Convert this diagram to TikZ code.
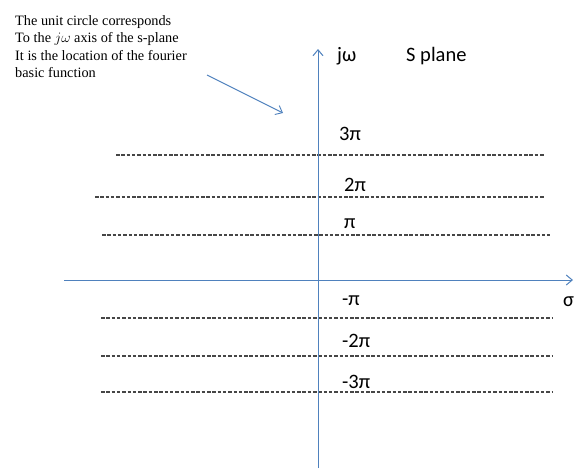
\documentclass[tikz,border=0pt]{standalone}
\usepackage{fontspec}
\setmainfont{Liberation Serif}
\newfontfamily\lblfont{Carlito}
\usetikzlibrary{arrows.meta}
\definecolor{axblue}{RGB}{79,129,189}
\definecolor{dashgray}{RGB}{70,70,70}
\tikzset{
  axis/.style={draw=axblue, line width=1pt, -{Straight Barb[length=6pt,width=10pt]}},
  grid/.style={draw=dashgray, line width=1.2pt, dash pattern=on 3.5pt off 1.8pt},
  lbl/.style={font=\lblfont\fontsize{20.5}{22}\selectfont, inner sep=0pt, anchor=west},
  note/.style={font=\fontsize{14.3}{17.5}\selectfont, align=left, inner sep=0pt, anchor=north west}
}
\begin{document}
\begin{tikzpicture}[x=1pt,y=-1pt]
\useasboundingbox (0,0) rectangle (586,472);
% dashed lines
\coordinate (g3a) at (116,155); \coordinate (g3b) at (545,155);
\coordinate (g2a) at (95,197);  \coordinate (g2b) at (545,197);
\coordinate (g1a) at (102,235); \coordinate (g1b) at (550,235);
\coordinate (h1a) at (101,318); \coordinate (h1b) at (553,318);
\coordinate (h2a) at (101,356); \coordinate (h2b) at (553,356);
\coordinate (h3a) at (101,392); \coordinate (h3b) at (553,392);
\draw[grid] (g3a) -- (g3b);
\draw[grid] (g2a) -- (g2b);
\draw[grid] (g1a) -- (g1b);
\draw[grid] (h1a) -- (h1b);
\draw[grid] (h2a) -- (h2b);
\draw[grid] (h3a) -- (h3b);
% axes
\coordinate (vb) at (318,468); \coordinate (vt) at (318,49);
\coordinate (hl) at (64,280); \coordinate (hr) at (573,280);
\draw[axis] (vb) -- (vt);
\draw[axis] (hl) -- (hr);
% labels
\node[lbl] (jw) at (337,56) {jω};
\node[lbl] (sp) at (406,56) {S plane};
\node[lbl] (p3) at (339,134) {3π};
\node[lbl] (p2) at (344,185) {2π};
\node[lbl] (p1) at (344,224) {π};
\node[lbl] (m1) at (342,301) {-π};
\node[lbl] (m2) at (342,341) {-2π};
\node[lbl] (m3) at (342,382) {-3π};
\node[lbl] (sg) at (563,302) {σ};
% note
\node[note] (nt) at (15,15) {The unit circle corresponds\\To the $j\omega$ axis of the s-plane\\It is the location of the fourier\\basic function};
\coordinate (na) at (207,75); \coordinate (nb) at (283,113);
\draw[axis, line width=0.9pt] (na) -- (nb);
\end{tikzpicture}
\end{document}
